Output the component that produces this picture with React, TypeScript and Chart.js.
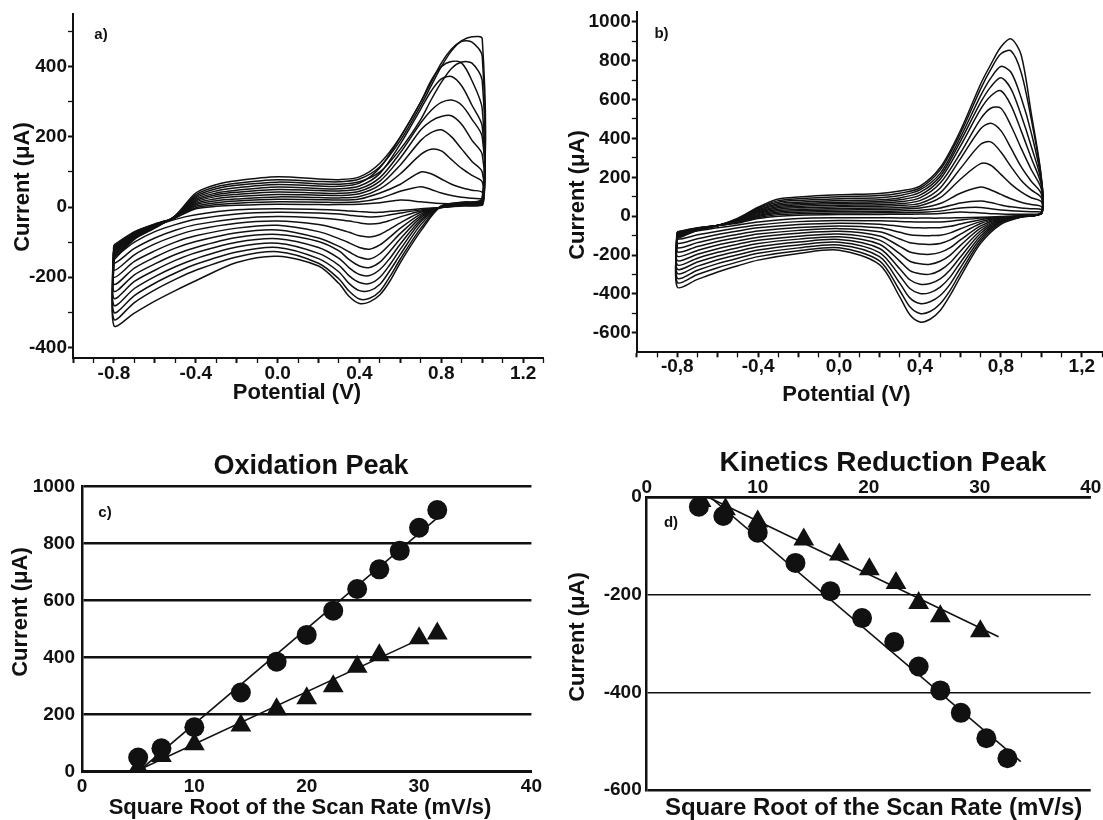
import React, { useEffect, useRef } from 'react';
import { Chart, registerables } from 'chart.js';

Chart.register(...registerables);

const FONT = '"Liberation Sans", Arial, Helvetica, sans-serif';
const INK = '#111111';

// ---------- Panels a) and b): cyclic voltammograms ----------
// potential grid of the forward (anodic) and reverse (cathodic) sweeps, V
const CV_FWD_E = [-0.8, -0.7, -0.6, -0.5, -0.4, -0.3, -0.2, 0.0, 0.2, 0.3, 0.4, 0.5, 0.6, 0.7, 0.75, 0.8, 0.85, 0.9, 0.95, 1.0];
const CV_REV_E = [1.0, 0.9, 0.8, 0.7, 0.6, 0.55, 0.5, 0.45, 0.4, 0.35, 0.3, 0.2, 0.0, -0.2, -0.4, -0.5, -0.6, -0.7, -0.8];

// panel a) currents (µA), one row per scan rate
const A_FWD_I = [
  [-108, -70, -48, -30, -5, 2, 5, 8, 7, 7, 8, 12, 20, 15, 12, 10, 9, 8, 8, 8],
  [-112, -72, -49, -30, -2, 7, 11, 15, 14, 13, 15, 25, 45, 58, 50, 40, 33, 28, 25, 22],
  [-115, -74, -50, -30, 2, 12, 17, 22, 21, 20, 23, 40, 65, 100, 95, 80, 65, 55, 48, 42],
  [-118, -76, -51, -30, 6, 18, 23, 29, 27, 26, 30, 52, 95, 150, 165, 160, 135, 110, 90, 72],
  [-122, -78, -52, -30, 10, 24, 30, 36, 34, 33, 38, 63, 120, 190, 212, 220, 200, 165, 130, 100],
  [-125, -80, -53, -30, 14, 30, 36, 43, 40, 39, 45, 74, 140, 220, 245, 258, 260, 235, 190, 150],
  [-128, -82, -54, -29, 18, 35, 42, 50, 47, 46, 52, 84, 155, 240, 275, 298, 305, 290, 250, 200],
  [-132, -84, -55, -28, 22, 40, 48, 57, 53, 52, 60, 96, 180, 280, 330, 365, 372, 345, 290, 230],
  [-136, -86, -56, -27, 26, 46, 55, 64, 60, 59, 68, 112, 200, 300, 360, 400, 415, 410, 360, 280],
  [-140, -88, -57, -26, 30, 52, 62, 71, 66, 65, 72, 100, 165, 250, 305, 355, 395, 413, 410, 360],
  [-145, -90, -58, -25, 35, 58, 68, 78, 73, 72, 80, 115, 190, 290, 345, 400, 445, 472, 470, 430],
  [-150, -92, -60, -24, 40, 64, 75, 86, 80, 78, 86, 125, 200, 300, 355, 410, 450, 474, 485, 480],
];
const A_REV_I = [
  [5, 3, -1, -5, -10, -12, -15, -15, -13, -11, -9, -7, -5, -8, -22, -35, -55, -85, -120],
  [6, 4, -1, -8, -17, -22, -27, -28, -26, -23, -20, -17, -15, -20, -35, -50, -70, -100, -140],
  [8, 5, -1, -11, -28, -38, -46, -48, -45, -40, -36, -31, -27, -33, -50, -66, -88, -118, -160],
  [10, 6, -1, -15, -45, -62, -78, -85, -82, -72, -63, -50, -40, -46, -65, -82, -105, -136, -180],
  [12, 7, 0, -20, -60, -85, -108, -120, -115, -102, -90, -70, -52, -60, -82, -100, -125, -155, -200],
  [14, 8, 0, -25, -75, -105, -133, -148, -143, -128, -112, -88, -65, -73, -98, -117, -143, -174, -220],
  [16, 9, 1, -30, -90, -125, -157, -172, -168, -150, -125, -98, -78, -87, -115, -135, -162, -193, -240],
  [18, 10, 1, -36, -105, -145, -178, -195, -192, -173, -146, -115, -90, -100, -130, -152, -180, -212, -260],
  [20, 11, 2, -42, -120, -163, -200, -218, -215, -196, -166, -132, -103, -114, -147, -170, -198, -232, -280],
  [22, 12, 2, -50, -135, -180, -220, -238, -238, -218, -185, -147, -115, -128, -163, -188, -217, -252, -300],
  [24, 13, 3, -60, -148, -197, -240, -260, -262, -240, -205, -160, -127, -142, -180, -206, -236, -272, -320],
  [25, 14, 3, -68, -158, -210, -250, -270, -275, -255, -218, -168, -140, -158, -210, -238, -268, -302, -338],
];

// panel b) currents (µA), one row per scan rate
const B_FWD_I = [
  [-80, -60, -48, -35, -12, 0, 5, 8, 9, 10, 11, 14, 22, 16, 13, 11, 10, 10, 10, 10],
  [-82, -61, -48, -33, -7, 8, 13, 16, 17, 18, 20, 26, 42, 45, 38, 32, 28, 25, 23, 22],
  [-85, -62, -48, -31, -2, 15, 20, 24, 25, 27, 30, 42, 68, 78, 70, 58, 48, 42, 38, 34],
  [-88, -63, -48, -29, 3, 22, 28, 32, 34, 36, 42, 65, 118, 150, 135, 112, 90, 72, 60, 50],
  [-90, -64, -48, -27, 8, 29, 35, 40, 42, 45, 54, 95, 190, 270, 262, 215, 165, 125, 95, 75],
  [-92, -65, -48, -25, 13, 36, 43, 48, 51, 55, 66, 120, 245, 370, 382, 330, 255, 185, 135, 95],
  [-95, -66, -48, -23, 18, 43, 50, 56, 59, 64, 80, 145, 295, 450, 478, 440, 350, 255, 180, 115],
  [-98, -67, -48, -21, 23, 50, 58, 64, 68, 74, 94, 170, 325, 500, 555, 555, 465, 350, 240, 140],
  [-100, -68, -48, -19, 28, 57, 65, 72, 76, 84, 108, 190, 360, 550, 618, 645, 570, 440, 300, 160],
  [-103, -69, -48, -17, 33, 64, 72, 80, 85, 94, 122, 205, 385, 585, 665, 712, 655, 520, 360, 175],
  [-106, -70, -48, -15, 38, 72, 81, 90, 95, 106, 135, 220, 405, 620, 710, 770, 740, 610, 430, 185],
  [-110, -72, -48, -13, 42, 80, 90, 100, 106, 118, 145, 238, 425, 655, 755, 835, 850, 740, 500, 195],
  [-115, -74, -48, -10, 46, 88, 99, 110, 117, 130, 155, 250, 440, 680, 780, 870, 912, 830, 530, 200],
];
const B_REV_I = [
  [10, 3, -2, -5, -8, -9, -10, -10, -10, -10, -9, -8, -8, -12, -30, -45, -60, -75, -95],
  [11, 2, -4, -10, -20, -26, -30, -30, -30, -29, -27, -24, -22, -28, -45, -60, -77, -96, -118],
  [12, 1, -6, -18, -40, -52, -59, -60, -60, -58, -52, -41, -36, -43, -60, -76, -94, -116, -140],
  [13, 0, -8, -28, -65, -86, -98, -100, -99, -95, -83, -60, -50, -58, -76, -93, -112, -136, -162],
  [14, 0, -10, -38, -92, -122, -140, -145, -143, -137, -117, -80, -64, -73, -92, -110, -130, -156, -184],
  [15, -1, -12, -50, -122, -162, -186, -196, -194, -184, -155, -102, -78, -88, -108, -127, -148, -176, -206],
  [15, -1, -15, -62, -150, -200, -232, -247, -245, -232, -193, -123, -92, -103, -124, -144, -167, -196, -228],
  [16, -2, -18, -75, -180, -238, -278, -298, -296, -280, -231, -144, -106, -118, -140, -162, -186, -216, -250],
  [16, -2, -22, -88, -210, -275, -322, -346, -350, -327, -270, -166, -120, -133, -157, -180, -205, -236, -272],
  [17, -3, -26, -102, -238, -312, -365, -393, -398, -372, -306, -187, -134, -148, -174, -198, -224, -257, -294],
  [17, -3, -30, -115, -265, -348, -408, -440, -449, -420, -344, -208, -148, -163, -191, -216, -244, -278, -318],
  [18, -4, -36, -128, -290, -380, -450, -490, -500, -466, -382, -230, -162, -178, -208, -235, -265, -300, -340],
  [18, -5, -42, -140, -312, -405, -485, -530, -544, -507, -415, -249, -175, -192, -226, -255, -287, -325, -364],
];

const A_X_TICKS = [-1.0, -0.9, -0.8, -0.7, -0.6, -0.5, -0.4, -0.3, -0.2, -0.1, 0.0, 0.1, 0.2, 0.3, 0.4, 0.5, 0.6, 0.7, 0.8, 0.9, 1.0, 1.1, 1.2, 1.3];
const A_X_LABELS = [-0.8, -0.4, 0.0, 0.4, 0.8, 1.2];
const A_Y_TICKS = [-400, -300, -200, -100, 0, 100, 200, 300, 400, 500];
const A_Y_LABELS = [-400, -200, 0, 200, 400];
const B_X_TICKS = [-1.0, -0.9, -0.8, -0.7, -0.6, -0.5, -0.4, -0.3, -0.2, -0.1, 0.0, 0.1, 0.2, 0.3, 0.4, 0.5, 0.6, 0.7, 0.8, 0.9, 1.0, 1.1, 1.2, 1.3];
const B_X_LABELS = [-0.8, -0.4, 0.0, 0.4, 0.8, 1.2];
const B_Y_TICKS = [-600, -500, -400, -300, -200, -100, 0, 100, 200, 300, 400, 500, 600, 700, 800, 900, 1000];
const B_Y_LABELS = [-600, -400, -200, 0, 200, 400, 600, 800, 1000];

// ---------- Panel c): oxidation peak ----------
const C_CIRCLE_X = [5, 7.07, 10, 14.14, 17.32, 20, 22.36, 24.49, 26.46, 28.28, 30, 31.62];
const C_CIRCLE_Y = [50, 82, 156, 278, 386, 480, 565, 641, 710, 775, 856, 918];
const C_TRI_X = [5, 7.07, 10, 14.14, 17.32, 20, 22.36, 24.49, 26.46, 30, 31.62];
const C_TRI_Y = [15, 55, 96, 162, 219, 258, 300, 368, 409, 468, 485];
const C_FIT_CIRCLE_X = [5, 31.6];
const C_FIT_CIRCLE_Y = [0, 890];
const C_FIT_TRI_X = [5, 30.5];
const C_FIT_TRI_Y = [5, 473];
const C_X_TICKS = [0, 10, 20, 30, 40];
const C_Y_TICKS = [0, 200, 400, 600, 800, 1000];

// ---------- Panel d): kinetics reduction peak ----------
const D_CIRCLE_X = [4.7, 6.9, 10, 13.4, 16.55, 19.4, 22.3, 24.5, 26.45, 28.3, 30.6, 32.5];
const D_CIRCLE_Y = [-20, -39, -73, -135, -193, -248, -297, -347, -396, -442, -494, -535];
const D_TRI_X = [4.9, 7.1, 10, 14.15, 17.35, 20.06, 22.46, 24.5, 26.45, 30.06];
const D_TRI_Y = [-8, -25, -50, -87, -118, -148, -176, -217, -244, -275];
const D_FIT_CIRCLE_X = [5.7, 33.7];
const D_FIT_CIRCLE_Y = [0, -542];
const D_FIT_TRI_X = [5.5, 31.7];
const D_FIT_TRI_Y = [0, -286];
const D_X_TICKS = [0, 10, 20, 30, 40];
const D_Y_TICKS = [-600, -400, -200, 0];

// ---------- helpers ----------
type TextItem = { text: string; x: number; y: number; size: number; rotate?: boolean };

const tickFont = (size: number) => ({ family: FONT, size, weight: 'bold' as const, lineHeight: 1 });

function hasValue(list: number[], v: number) {
  return list.some((l) => Math.abs(l - v) < 1e-6);
}

function textPlugin(items: TextItem[]) {
  return {
    id: 'panelText',
    afterDraw(chart: any) {
      const ctx = chart.ctx;
      for (const it of items) {
        ctx.save();
        ctx.font = `bold ${it.size}px ${FONT}`;
        ctx.fillStyle = INK;
        ctx.textAlign = 'center';
        ctx.textBaseline = 'middle';
        ctx.translate(it.x, it.y);
        if (it.rotate) ctx.rotate(-Math.PI / 2);
        ctx.fillText(it.text, 0, 0);
        ctx.restore();
      }
    },
  };
}

const baseOptions = {
  responsive: false,
  animation: false,
  devicePixelRatio: 1,
  events: [] as string[],
};

function cvConfig(p: any) {
  const datasets = p.fwd.map((row: number[], k: number) => ({
    data: [
      ...CV_FWD_E.map((e, i) => ({ x: e, y: row[i] })),
      ...CV_REV_E.map((e, i) => ({ x: e, y: p.rev[k][i] })),
      { x: CV_FWD_E[0], y: row[0] },
    ],
    showLine: true,
    borderColor: INK,
    borderWidth: 1.5,
    pointRadius: 0,
    tension: 0.3,
    fill: false,
  }));
  return {
    type: 'scatter',
    data: { datasets },
    options: {
      ...baseOptions,
      layout: { padding: { left: 0, top: p.padTop, right: p.padRight, bottom: 0 } },
      plugins: { legend: { display: false }, tooltip: { enabled: false } },
      scales: {
        x: {
          type: 'linear',
          min: p.xMin,
          max: p.xMax,
          afterBuildTicks: (s: any) => { s.ticks = p.xTicks.map((v: number) => ({ value: v })); },
          afterFit: (s: any) => { s.height = p.xHeight; },
          ticks: {
            autoSkip: false, maxRotation: 0, minRotation: 0, padding: p.xPad, color: INK, font: tickFont(19),
            callback: (v: number) => (hasValue(p.xLabels, v) ? p.fmtX(v) : ''),
          },
          grid: {
            display: true, drawOnChartArea: false, drawTicks: true, tickLength: 5, tickColor: INK,
            tickWidth: (c: any) => (c.tick && Math.round(Math.abs(c.tick.value) * 10) % 2 === 0 ? 2 : 1.3),
          },
          border: { display: true, color: INK, width: 2 },
        },
        y: {
          type: 'linear',
          min: p.yMin,
          max: p.yMax,
          afterBuildTicks: (s: any) => { s.ticks = p.yTicks.map((v: number) => ({ value: v })); },
          afterFit: (s: any) => { s.width = p.yWidth; },
          ticks: {
            autoSkip: false, padding: 1, color: INK, font: tickFont(19),
            callback: (v: number) => (hasValue(p.yLabels, v) ? String(v) : ''),
          },
          grid: {
            display: true, drawOnChartArea: false, drawTicks: true, tickLength: 5, tickColor: INK,
            tickWidth: (c: any) => (c.tick && Math.abs(c.tick.value) % 200 === 0 ? 2 : 1.3),
          },
          border: { display: true, color: INK, width: 2 },
        },
      },
    },
    plugins: [textPlugin(p.texts)],
  };
}

function markerSet(xs: number[], ys: number[], style: string, radius: number) {
  return {
    data: xs.map((x, i) => ({ x, y: ys[i] })),
    showLine: false,
    pointStyle: style,
    pointRadius: radius,
    pointBackgroundColor: INK,
    pointBorderColor: INK,
    pointBorderWidth: 0,
    borderColor: INK,
    backgroundColor: INK,
  };
}

function fitLine(xs: number[], ys: number[]) {
  return {
    data: xs.map((x, i) => ({ x, y: ys[i] })),
    showLine: true,
    borderColor: INK,
    borderWidth: 1.6,
    pointRadius: 0,
    tension: 0,
    fill: false,
  };
}

function configC() {
  return {
    type: 'scatter',
    data: {
      datasets: [
        markerSet(C_CIRCLE_X, C_CIRCLE_Y, 'circle', 10),
        markerSet(C_TRI_X, C_TRI_Y, 'triangle', 12),
        fitLine(C_FIT_CIRCLE_X, C_FIT_CIRCLE_Y),
        fitLine(C_FIT_TRI_X, C_FIT_TRI_Y),
      ],
    },
    options: {
      ...baseOptions,
      layout: { padding: { left: 0, top: 76.7, right: 14, bottom: 0 } },
      plugins: { legend: { display: false }, tooltip: { enabled: false } },
      scales: {
        x: {
          type: 'linear', min: 0, max: 40,
          afterBuildTicks: (s: any) => { s.ticks = C_X_TICKS.map((v) => ({ value: v })); },
          afterFit: (s: any) => { s.height = 48.3; },
          ticks: { autoSkip: false, maxRotation: 0, minRotation: 0, padding: 6, color: INK, font: tickFont(19), callback: (v: number) => String(v) },
          grid: { display: false, drawTicks: false },
          border: { display: true, color: INK, width: 3 },
        },
        y: {
          type: 'linear', min: 0, max: 1000,
          afterBuildTicks: (s: any) => { s.ticks = C_Y_TICKS.map((v) => ({ value: v })); },
          afterFit: (s: any) => { s.width = 82; },
          ticks: { autoSkip: false, padding: 7, color: INK, font: tickFont(19), callback: (v: number) => String(v) },
          grid: { display: true, drawTicks: false, color: INK, lineWidth: 2.5 },
          border: { display: true, color: INK, width: 2.5 },
        },
      },
    },
    plugins: [
      textPlugin([
        { text: 'Oxidation Peak', x: 311, y: 57, size: 27 },
        { text: 'Current (μA)', x: 21, y: 202, size: 22, rotate: true },
        { text: 'Square Root of the Scan Rate (mV/s)', x: 300, y: 398, size: 22 },
        { text: 'c)', x: 105, y: 102.5, size: 15 },
      ]),
    ],
  };
}

function configD() {
  return {
    type: 'scatter',
    data: {
      datasets: [
        markerSet(D_CIRCLE_X, D_CIRCLE_Y, 'circle', 10),
        markerSet(D_TRI_X, D_TRI_Y, 'triangle', 12),
        fitLine(D_FIT_CIRCLE_X, D_FIT_CIRCLE_Y),
        fitLine(D_FIT_TRI_X, D_FIT_TRI_Y),
      ],
    },
    options: {
      ...baseOptions,
      layout: { padding: { left: 0, top: 0, right: 12.3, bottom: 30 } },
      plugins: { legend: { display: false }, tooltip: { enabled: false } },
      scales: {
        x: {
          type: 'linear', position: 'top', min: 0, max: 40,
          afterBuildTicks: (s: any) => { s.ticks = D_X_TICKS.map((v) => ({ value: v })); },
          afterFit: (s: any) => { s.height = 87; },
          ticks: { autoSkip: false, maxRotation: 0, minRotation: 0, padding: 0, color: INK, font: tickFont(19), callback: (v: number) => String(v) },
          grid: { display: false, drawTicks: false },
          border: { display: true, color: INK, width: 2.5 },
        },
        y: {
          type: 'linear', min: -600, max: 0,
          afterBuildTicks: (s: any) => { s.ticks = D_Y_TICKS.map((v) => ({ value: v })); },
          afterFit: (s: any) => { s.width = 98.7; },
          ticks: { autoSkip: false, padding: 5, color: INK, font: tickFont(19), callback: (v: number) => String(v) },
          grid: {
            display: true, drawTicks: false, color: INK,
            lineWidth: (c: any) => (c.tick && (c.tick.value === -600 || c.tick.value === 0) ? 2.5 : 1.6),
          },
          border: { display: true, color: INK, width: 2.5 },
        },
      },
    },
    plugins: [
      textPlugin([
        { text: 'Kinetics Reduction Peak', x: 335, y: 53.3, size: 28 },
        { text: 'Current (μA)', x: 30, y: 227, size: 22, rotate: true },
        { text: 'Square Root of the Scan Rate (mV/s)', x: 325.6, y: 398.5, size: 24 },
        { text: 'd)', x: 123, y: 112.5, size: 15 },
      ]),
    ],
  };
}

function configA() {
  return cvConfig({
    fwd: A_FWD_I, rev: A_REV_I,
    xMin: -1.0, xMax: 1.3, yMin: -430, yMax: 550,
    xTicks: A_X_TICKS, xLabels: A_X_LABELS, yTicks: A_Y_TICKS, yLabels: A_Y_LABELS,
    fmtX: (v: number) => (Math.abs(v) < 1e-9 ? 0 : v).toFixed(1),
    padTop: 14, padRight: 4.4, yWidth: 73, xHeight: 52, xPad: 1,
    texts: [
      { text: 'Current (μA)', x: 23, y: 187, size: 22, rotate: true },
      { text: 'Potential (V)', x: 297, y: 393, size: 22 },
      { text: 'a)', x: 101, y: 35, size: 15 },
    ],
  });
}

function configB() {
  return cvConfig({
    fwd: B_FWD_I, rev: B_REV_I,
    xMin: -1.0, xMax: 1.3, yMin: -700, yMax: 1050,
    xTicks: B_X_TICKS, xLabels: B_X_LABELS, yTicks: B_Y_TICKS, yLabels: B_Y_LABELS,
    fmtX: (v: number) => (Math.abs(v) < 1e-9 ? 0 : v).toFixed(1).replace('.', ','),
    padTop: 12, padRight: 1, yWidth: 88.8, xHeight: 57.7, xPad: 0,
    texts: [
      { text: 'Current (μA)', x: 30, y: 195, size: 22, rotate: true },
      { text: 'Potential (V)', x: 298.5, y: 395, size: 22 },
      { text: 'b)', x: 113.5, y: 34, size: 15 },
    ],
  });
}

function Panel({ left, top, width, height, build }: { left: number; top: number; width: number; height: number; build: () => any }) {
  const ref = useRef<HTMLCanvasElement | null>(null);
  useEffect(() => {
    if (!ref.current) return;
    const chart = new Chart(ref.current, build());
    return () => chart.destroy();
  }, []);
  return (
    <canvas
      ref={ref}
      width={width}
      height={height}
      style={{ position: 'absolute', left, top, width, height, display: 'block' }}
    />
  );
}

export default function App() {
  useEffect(() => {
    document.body.style.margin = '0';
    document.body.style.background = '#ffffff';
  }, []);
  return (
    <div style={{ position: 'absolute', left: 0, top: 0, width: 1103, height: 820, background: '#ffffff', overflow: 'hidden' }}>
      <Panel left={0} top={0} width={548} height={410} build={configA} />
      <Panel left={548} top={0} width={555} height={410} build={configB} />
      <Panel left={0} top={410} width={548} height={410} build={configC} />
      <Panel left={548} top={410} width={555} height={410} build={configD} />
    </div>
  );
}
